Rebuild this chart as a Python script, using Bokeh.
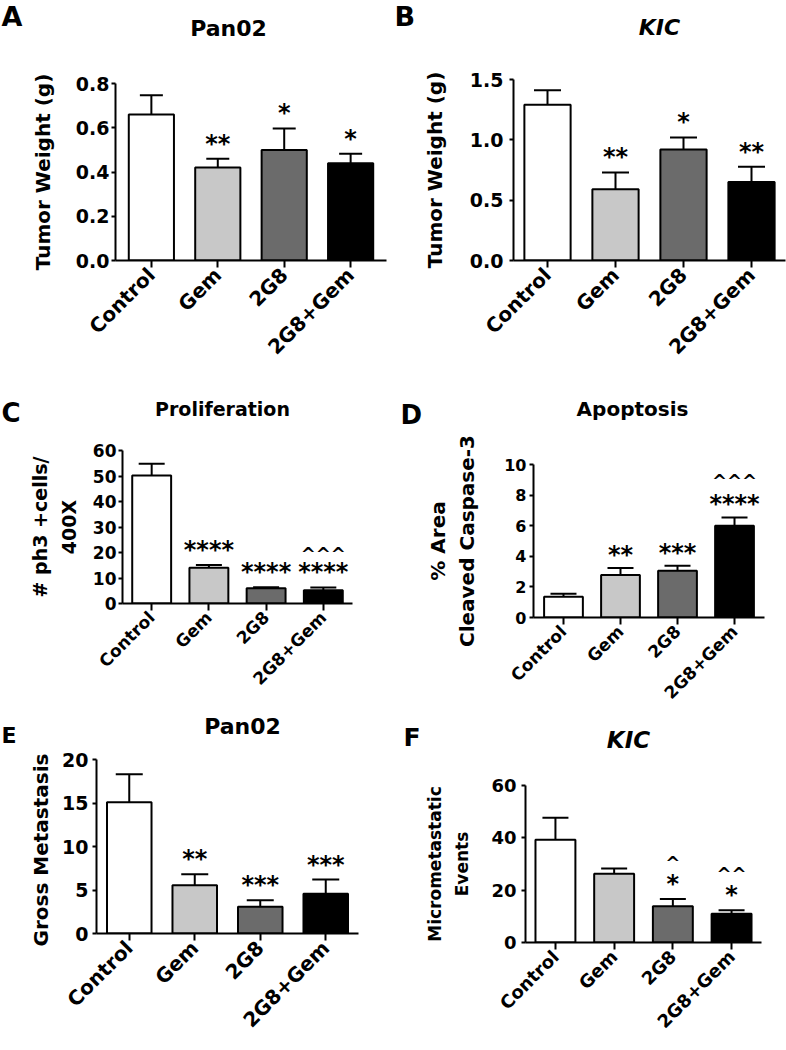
import math
from bokeh.plotting import figure
from bokeh.models import (ColumnDataSource, FactorRange, Range1d, FixedTicker,
                          NumeralTickFormatter, Whisker, TeeHead)
from bokeh.core.properties import value
from bokeh.layouts import column, row
from bokeh.embed import file_html
from bokeh.resources import INLINE

# ---------------- data ----------------
categories = ["Control", "Gem", "2G8", "2G8+Gem"]
bar_colors = ["#ffffff", "#c8c8c8", "#6b6b6b", "#000000"]

panel_letters = ["A", "B", "C", "D", "E", "F"]
panel_titles = ["Pan02", "KIC", "Proliferation", "Apoptosis", "Pan02", "KIC"]
y_labels = ["Tumor Weight (g)", "Tumor Weight (g)", "# ph3 +cells/\n400X",
            "% Area\nCleaved Caspase-3", "Gross  Metastasis", "Micrometastatic\nEvents"]

# A: Pan02 tumor weight (g)
a_values = [0.66, 0.42, 0.50, 0.44]
a_errors = [0.087, 0.040, 0.097, 0.042]
a_stars = ["", "**", "*", "*"]
a_carets = ["", "", "", ""]
a_yticks = [0.0, 0.2, 0.4, 0.6, 0.8]

# B: KIC tumor weight (g)
b_values = [1.29, 0.59, 0.92, 0.65]
b_errors = [0.12, 0.14, 0.10, 0.126]
b_stars = ["", "**", "*", "**"]
b_carets = ["", "", "", ""]
b_yticks = [0.0, 0.5, 1.0, 1.5]

# C: Proliferation (# ph3 +cells / 400X)
c_values = [50.2, 14.0, 6.0, 5.2]
c_errors = [4.6, 1.1, 0.4, 1.1]
c_stars = ["", "****", "****", "****"]
c_carets = ["", "", "", "^^^"]
c_yticks = [0, 10, 20, 30, 40, 50, 60]

# D: Apoptosis (% area cleaved caspase-3)
d_values = [1.36, 2.78, 3.06, 6.0]
d_errors = [0.19, 0.46, 0.33, 0.54]
d_stars = ["", "**", "***", "****"]
d_carets = ["", "", "", "^^^"]
d_yticks = [0, 2, 4, 6, 8, 10]

# E: Pan02 gross metastasis
e_values = [15.1, 5.56, 3.07, 4.56]
e_errors = [3.2, 1.26, 0.76, 1.64]
e_stars = ["", "**", "***", "***"]
e_carets = ["", "", "", ""]
e_yticks = [0, 5, 10, 15, 20]

# F: KIC micrometastatic events
f_values = [39.3, 26.3, 13.9, 11.0]
f_errors = [8.4, 2.0, 2.7, 1.3]
f_stars = ["", "", "*", "*"]
f_carets = ["", "", "^", "^^"]
f_yticks = [0, 20, 40, 60]

FONT = "DejaVu Sans"
COL_W = 393


def make_header(idx, st):
    """Header strip above a panel holding its letter and its title as text."""
    h = st["sh"]
    s = figure(width=COL_W, height=h, x_range=Range1d(0, COL_W),
               y_range=Range1d(h, 0), output_backend="svg",
               toolbar_location=None, tools="", x_axis_type=None, y_axis_type=None,
               min_border_left=0, min_border_right=0, min_border_top=0,
               min_border_bottom=0)
    s.outline_line_color = None
    s.grid.visible = False
    lx, ly, lfs = st["letter"]
    tx, ty, tfs, tstyle = st["title"]
    s.text(x=[lx], y=[ly], text=[panel_letters[idx]], text_align="left",
           text_baseline="middle", text_font=value(FONT), text_font_style="bold",
           text_font_size=lfs, text_color="black")
    s.text(x=[tx], y=[ty], text=[panel_titles[idx]], text_align="center",
           text_baseline="middle", text_font=value(FONT), text_font_style=tstyle,
           text_font_size=tfs, text_color="black")
    return s


def make_panel(idx, values, errors, stars, carets, yticks, st):
    upper = [v + e for v, e in zip(values, errors)]
    src = ColumnDataSource(dict(cat=categories, val=values, upper=upper,
                                color=bar_colors, stars=stars, carets=carets))
    p = figure(width=COL_W, height=st["h"],
               x_range=FactorRange(factors=categories, range_padding=st["rp"]),
               y_range=Range1d(yticks[0], yticks[-1]),
               output_backend="svg", toolbar_location=None, tools="",
               min_border_left=st["mb"][0], min_border_right=st["mb"][1],
               min_border_top=st["mb"][2], min_border_bottom=st["mb"][3])
    p.outline_line_color = None
    p.grid.visible = False
    p.background_fill_color = "white"
    p.border_fill_color = "white"

    p.vbar(x="cat", top="val", bottom=0, width=0.68, source=src,
           fill_color="color", line_color="black", line_width=2)
    p.add_layout(Whisker(base="cat", lower="val", upper="upper", source=src,
                         dimension="height", line_color="black", line_width=2,
                         lower_head=None,
                         upper_head=TeeHead(size=st["cap"], line_color="black", line_width=2),
                         level="glyph"))
    p.text(x="cat", y="upper", text="stars", source=src, text_align="center",
           text_baseline="middle", y_offset=st["star_off"],
           text_font=value(FONT), text_font_style="bold",
           text_font_size="24px", text_color="black")
    p.text(x="cat", y="upper", text="carets", source=src, text_align="center",
           text_baseline="middle", y_offset=st["caret_off"],
           text_font=value(FONT), text_font_style="bold",
           text_font_size="18px", text_color="black")

    for ax in (p.xaxis, p.yaxis):
        ax.axis_line_width = 2
        ax.axis_line_color = "black"
        ax.major_tick_line_width = 2
        ax.major_tick_line_color = "black"
        ax.major_tick_in = 0
        ax.minor_tick_line_color = None
        ax.major_label_text_font = FONT
        ax.major_label_text_font_style = "bold"
        ax.major_label_text_color = "black"

    p.xaxis.major_tick_out = 7
    p.xaxis.major_label_standoff = 4
    p.xaxis.major_label_orientation = math.pi / 4
    p.xaxis.major_label_text_font_size = st["xfs"]

    p.yaxis.ticker = FixedTicker(ticks=yticks)
    p.yaxis.formatter = NumeralTickFormatter(format=st["yfmt"])
    p.yaxis.major_tick_out = 4
    p.yaxis.major_label_standoff = st["ystand"]
    p.yaxis.major_label_text_font_size = st["yfs"]
    p.yaxis.axis_label = y_labels[idx]
    p.yaxis.axis_label_text_font = FONT
    p.yaxis.axis_label_text_font_style = "bold"
    p.yaxis.axis_label_text_font_size = st["lfs"]
    p.yaxis.axis_label_standoff = st["lstand"]
    p.yaxis.axis_label_text_line_height = st["llh"]
    p.yaxis.axis_label_text_color = "black"

    # header strip + plot; the plot is wrapped so frames are not co-aligned
    return column(make_header(idx, st), column(p))


styles = {
    "A": dict(sh=44, letter=(1, 16, "27px"), title=(228, 28, "22px", "bold"),
              h=326, mb=(115, 7, 39, 109), rp=0.02, cap=23, star_off=-15, caret_off=-33,
              xfs="20px", yfs="19px", yfmt="0.0", ystand=2, lfs="20px", lstand=18, llh=1.2),
    "B": dict(sh=44, letter=(1, 16, "27px"), title=(266, 27, "22px", "bold italic"),
              h=326, mb=(120, 1, 35, 108), rp=0.0, cap=27, star_off=-15, caret_off=-33,
              xfs="20px", yfs="19px", yfmt="0.0", ystand=6, lfs="20px", lstand=20, llh=1.2),
    "C": dict(sh=60, letter=(1, 42.5, "26px"), title=(222, 38, "19px", "bold"),
              h=282, mb=(122, 41, 20, 109), rp=0.005, cap=26, star_off=-15, caret_off=-34,
              xfs="17px", yfs="17px", yfmt="0", ystand=2, lfs="19px", lstand=10, llh=1.29),
    "D": dict(sh=60, letter=(7, 44, "26px"), title=(239, 38, "20px", "bold"),
              h=282, mb=(140, 22, 34, 95), rp=0.013, cap=26, star_off=-13, caret_off=-37,
              xfs="17px", yfs="16px", yfmt="0", ystand=3, lfs="20px", lstand=22, llh=1.2),
    "E": dict(sh=36, letter=(1, 23, "22px"), title=(242, 14, "22px", "bold"),
              h=302, mb=(96, 35, 11, 117), rp=0.0, cap=27, star_off=-15, caret_off=-33,
              xfs="20px", yfs="19px", yfmt="0", ystand=4, lfs="20px", lstand=6, llh=1.2),
    "F": dict(sh=42, letter=(10, 24.5, "25px"), title=(235, 27, "23px", "bold italic"),
              h=296, mb=(132, 25, 31, 108), rp=0.005, cap=26, star_off=-15, caret_off=-37,
              xfs="18px", yfs="18px", yfmt="0", ystand=5, lfs="17px", lstand=16, llh=1.36),
}

pA = make_panel(0, a_values, a_errors, a_stars, a_carets, a_yticks, styles["A"])
pB = make_panel(1, b_values, b_errors, b_stars, b_carets, b_yticks, styles["B"])
pC = make_panel(2, c_values, c_errors, c_stars, c_carets, c_yticks, styles["C"])
pD = make_panel(3, d_values, d_errors, d_stars, d_carets, d_yticks, styles["D"])
pE = make_panel(4, e_values, e_errors, e_stars, e_carets, e_yticks, styles["E"])
pF = make_panel(5, f_values, f_errors, f_stars, f_carets, f_yticks, styles["F"])

layout = column(row(pA, pB), row(pC, pD), row(pE, pF))

open("out.html", "w").write(file_html(layout, INLINE))
